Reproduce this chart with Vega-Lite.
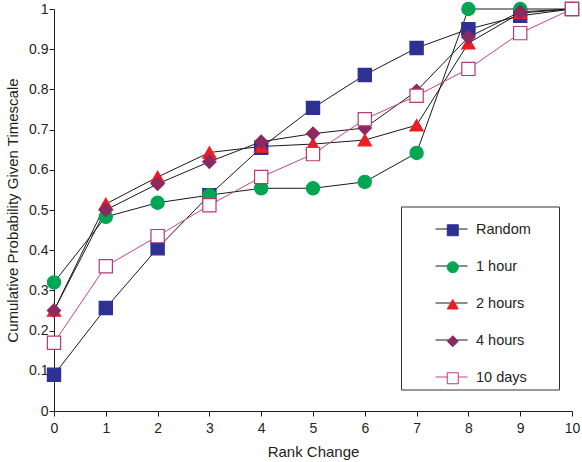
{
  "$schema": "https://vega.github.io/schema/vega-lite/v6.json",
  "width": 518,
  "height": 402,
  "autosize": {"type": "none"},
  "padding": {"left": 54, "top": 9, "right": 10, "bottom": 51},
  "background": "white",
  "config": {
    "view": {"stroke": null},
    "font": "Liberation Sans",
    "axis": {
      "grid": false,
      "domainColor": "#231f20",
      "tickColor": "#231f20",
      "tickSize": 5,
      "labelFontSize": 14,
      "labelColor": "#231f20",
      "labelFont": "Liberation Sans",
      "titleFont": "Liberation Sans",
      "titleFontSize": 15,
      "titleFontWeight": "normal",
      "titleColor": "#231f20"
    },
    "legend": {
      "labelFont": "Liberation Sans",
      "labelFontSize": 14.5,
      "labelColor": "#231f20"
    }
  },
  "data": {
    "values": [
      {"x": 0, "p": 0.09, "series": "Random"},
      {"x": 1, "p": 0.256, "series": "Random"},
      {"x": 2, "p": 0.405, "series": "Random"},
      {"x": 3, "p": 0.537, "series": "Random"},
      {"x": 4, "p": 0.655, "series": "Random"},
      {"x": 5, "p": 0.754, "series": "Random"},
      {"x": 6, "p": 0.836, "series": "Random"},
      {"x": 7, "p": 0.903, "series": "Random"},
      {"x": 8, "p": 0.95, "series": "Random"},
      {"x": 9, "p": 0.983, "series": "Random"},
      {"x": 10, "p": 1.0, "series": "Random"},
      {"x": 0, "p": 0.32, "series": "1 hour"},
      {"x": 1, "p": 0.483, "series": "1 hour"},
      {"x": 2, "p": 0.518, "series": "1 hour"},
      {"x": 3, "p": 0.537, "series": "1 hour"},
      {"x": 4, "p": 0.554, "series": "1 hour"},
      {"x": 5, "p": 0.554, "series": "1 hour"},
      {"x": 6, "p": 0.57, "series": "1 hour"},
      {"x": 7, "p": 0.642, "series": "1 hour"},
      {"x": 8, "p": 1.0, "series": "1 hour"},
      {"x": 9, "p": 1.0, "series": "1 hour"},
      {"x": 10, "p": 1.0, "series": "1 hour"},
      {"x": 0, "p": 0.25, "series": "2 hours"},
      {"x": 1, "p": 0.515, "series": "2 hours"},
      {"x": 2, "p": 0.582, "series": "2 hours"},
      {"x": 3, "p": 0.643, "series": "2 hours"},
      {"x": 4, "p": 0.658, "series": "2 hours"},
      {"x": 5, "p": 0.664, "series": "2 hours"},
      {"x": 6, "p": 0.674, "series": "2 hours"},
      {"x": 7, "p": 0.711, "series": "2 hours"},
      {"x": 8, "p": 0.915, "series": "2 hours"},
      {"x": 9, "p": 0.99, "series": "2 hours"},
      {"x": 10, "p": 1.0, "series": "2 hours"},
      {"x": 0, "p": 0.25, "series": "4 hours"},
      {"x": 1, "p": 0.5, "series": "4 hours"},
      {"x": 2, "p": 0.565, "series": "4 hours"},
      {"x": 3, "p": 0.62, "series": "4 hours"},
      {"x": 4, "p": 0.67, "series": "4 hours"},
      {"x": 5, "p": 0.69, "series": "4 hours"},
      {"x": 6, "p": 0.704, "series": "4 hours"},
      {"x": 7, "p": 0.796, "series": "4 hours"},
      {"x": 8, "p": 0.93, "series": "4 hours"},
      {"x": 9, "p": 0.993, "series": "4 hours"},
      {"x": 10, "p": 1.0, "series": "4 hours"},
      {"x": 0, "p": 0.17, "series": "10 days"},
      {"x": 1, "p": 0.36, "series": "10 days"},
      {"x": 2, "p": 0.435, "series": "10 days"},
      {"x": 3, "p": 0.512, "series": "10 days"},
      {"x": 4, "p": 0.582, "series": "10 days"},
      {"x": 5, "p": 0.639, "series": "10 days"},
      {"x": 6, "p": 0.726, "series": "10 days"},
      {"x": 7, "p": 0.784, "series": "10 days"},
      {"x": 8, "p": 0.851, "series": "10 days"},
      {"x": 9, "p": 0.94, "series": "10 days"},
      {"x": 10, "p": 1.0, "series": "10 days"}
    ]
  },
  "encoding": {
    "x": {
      "field": "x",
      "type": "quantitative",
      "scale": {"domain": [0, 10], "nice": false},
      "axis": {
        "title": "Rank Change",
        "values": [0, 1, 2, 3, 4, 5, 6, 7, 8, 9, 10],
        "labelPadding": 5,
        "titlePadding": 9,
        "labelFlush": false
      }
    },
    "y": {
      "field": "p",
      "type": "quantitative",
      "scale": {"domain": [0, 1], "nice": false},
      "axis": {
        "title": "Cumulative Probability Given Timescale",
        "values": [0, 0.1, 0.2, 0.3, 0.4, 0.5, 0.6, 0.7, 0.8, 0.9, 1],
        "format": "~g",
        "labelPadding": 1,
        "titlePadding": 8,
        "labelFlush": false
      }
    }
  },
  "layer": [
    {
      "mark": {"type": "line", "strokeWidth": 1},
      "encoding": {
        "detail": {"field": "series"},
        "color": {
          "field": "series",
          "type": "nominal",
          "sort": ["Random", "1 hour", "2 hours", "4 hours", "10 days"],
          "scale": {"range": ["#1a1a1a", "#1a1a1a", "#1a1a1a", "#1a1a1a", "#c4457e"]},
          "legend": {
            "title": null,
            "orient": "none",
            "legendX": 347,
            "legendY": 197.5,
            "padding": 6,
            "strokeColor": "#333333",
            "fillColor": "white",
            "symbolType": "stroke",
            "symbolSize": 1024,
            "symbolStrokeWidth": 1,
            "rowPadding": 14,
            "symbolOffset": 28,
            "labelOffset": 85,
            "labelExpr": "''",
            "zindex": 1
          }
        }
      }
    },
    {
      "mark": {"type": "point", "filled": false, "size": 175, "strokeWidth": 1.2, "opacity": 1},
      "encoding": {
        "shape": {
          "field": "series",
          "type": "nominal",
          "scale": {
            "domain": ["Random", "1 hour", "2 hours", "4 hours", "10 days"],
            "range": ["square", "circle", "triangle-up", "diamond", "square"]
          },
          "legend": {
            "title": null,
            "orient": "none",
            "legendX": 347,
            "legendY": 200,
            "padding": 14,
            "strokeColor": "transparent",
            "fillColor": "transparent",
            "rowPadding": 21,
            "symbolOffset": 30.5,
            "labelOffset": 16,
            "symbolSize": 121,
            "symbolStrokeWidth": 1,
            "zindex": 2
          }
        },
        "fill": {
          "field": "series",
          "type": "nominal",
          "scale": {
            "domain": ["Random", "1 hour", "2 hours", "4 hours", "10 days"],
            "range": ["#2e3192", "#00a651", "#ed1c24", "#8b2a60", "#ffffff"]
          }
        },
        "stroke": {
          "field": "series",
          "type": "nominal",
          "scale": {
            "domain": ["Random", "1 hour", "2 hours", "4 hours", "10 days"],
            "range": ["#2e3192", "#00a651", "#ed1c24", "#8b2a60", "#b83b72"]
          }
        }
      }
    }
  ]
}
